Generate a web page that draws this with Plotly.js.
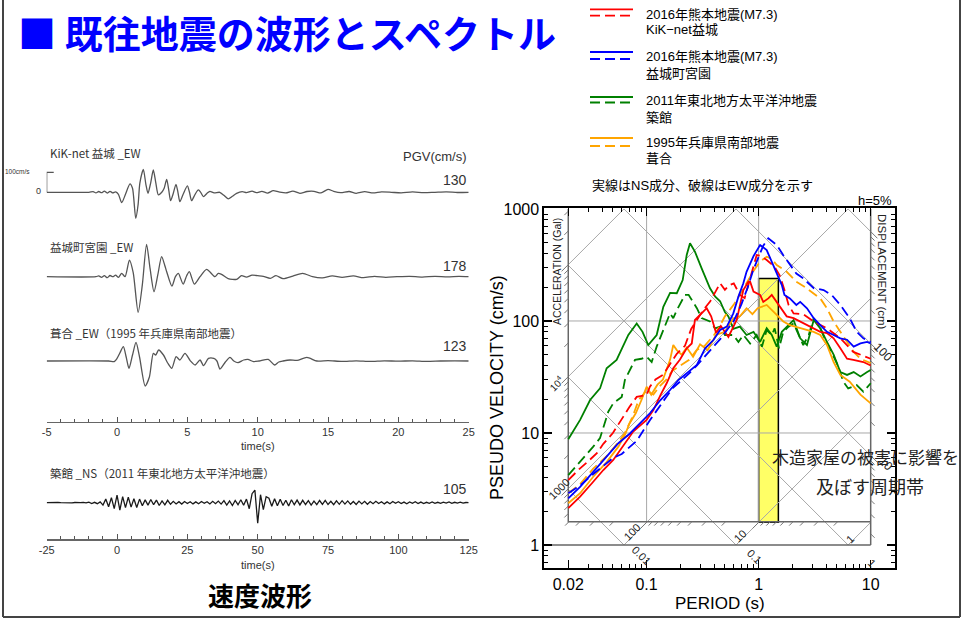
<!DOCTYPE html>
<html><head><meta charset="utf-8">
<script src="https://cdn.plot.ly/plotly-3.0.1.min.js"></script>
<style>html,body{margin:0;padding:0;background:#fff}#chart{width:967px;height:623px}</style>
</head><body><div id="chart"></div>
<script>
// ---------------- DATA ----------------
// Velocity waveforms (cm/s) vs time (s)
const wave1Time = [-5,-2,-1.7,-1.5,-1.3,-1.1,-0.9,-0.7,-0.5,-0.3,-0.1,0.1,0.33,0.6,0.92,1.1,1.33,1.5,1.62,1.87,2.05,2.2,2.4,2.58,2.75,2.94,3.18,3.35,3.53,3.68,3.81,4.0,4.19,4.33,4.47,4.7,5.0,5.15,5.3,5.55,5.78,5.95,6.14,6.4,6.6,6.9,7.3,7.6,7.9,8.2,8.5,8.9,9.2,9.6,9.9,10.3,10.7,11.1,11.5,12.0,12.5,13.0,13.5,14.0,14.5,15.0,15.4,15.9,16.5,17.0,17.6,18.2,18.8,19.5,20.2,21.0,21.8,22.6,23.4,24.2,25];
const wave1Vel = [0,0,3,-3,4,-2,6,-4,5,-3,2,-10,-52,-10,42,20,-130,-60,45,115,40,-5,50,112,50,-13,0,20,65,10,-42,-5,40,0,-47,-10,32,0,-42,-10,12,0,-22,-5,5,-3,0,-15,-33,-20,-5,3,-2,6,-2,5,-4,8,2,-3,6,-5,4,5,-3,15,5,-2,4,-5,3,-3,2,0,-3,2,-2,0,2,-1,0];
const wave2Time = [-5,-1.5,-1.3,-1.1,-0.9,-0.7,-0.5,-0.3,-0.1,0.1,0.33,0.57,0.88,1.15,1.5,1.8,2.1,2.35,2.63,2.9,3.17,3.4,3.53,3.9,4.15,4.36,4.7,4.95,5.14,5.5,5.9,6.37,6.96,7.2,7.43,7.9,8.5,8.85,9.2,9.6,10.0,10.4,10.9,11.3,11.8,12.5,13.2,13.9,14.6,15.3,16.0,16.8,17.5,18.3,19.1,19.9,20.8,21.7,22.6,23.5,24.3,25];
const wave2Vel = [0,0,4,-3,5,-5,6,0,8,-3,17,0,83,20,-178,-40,162,40,-75,10,100,55,25,-47,0,17,-37,5,25,-37,0,37,0,17,12,-10,-13,5,-2,8,5,2,-8,5,-10,3,17,0,-6,4,-3,4,-5,2,-3,0,2,-2,2,-1,2,0];
const wave3Time = [-5,-0.6,-0.2,0,0.2,0.45,0.65,0.85,1.1,1.35,1.6,2.0,2.3,2.58,2.75,2.96,3.3,3.6,3.89,4.2,4.47,4.83,5.2,5.55,5.9,6.15,6.5,6.88,7.1,7.32,7.7,8.03,8.3,8.6,9.0,9.3,9.7,10.1,10.75,11.2,11.5,11.8,12.3,12.8,13.5,14.2,15,16,17,18,19,20,21,22,23,24,25];
const wave3Vel = [0,0,-3,13,40,72,20,-37,30,93,20,-125,-80,38,30,55,30,-10,-37,22,5,38,2,-20,5,-23,13,13,0,-40,-5,18,0,-8,5,8,-3,0,8,-20,-5,0,5,3,18,0,2,-2,1,-2,1,-1,1,-2,0,1,0];
// 2011 record sampled every 1 s from -25 s
const wave4Start = -25, wave4Step = 1;
const wave4Vel = [0,1,-1,0,1,0,-1,1,0,-1,1,-1,0,2,-1,
  3,-4,2,-5,4,
  -12,18,-20,25,-30,38,-37,30,-25,28,-22,20,-24,18,-15,
  14,-12,16,-10,13,-14,9,-11,12,-8,
  7,-6,5,-7,6,-4,5,-6,4,-5,6,-3,5,-6,7,-5,8,-7,
  10,-12,9,-14,11,-10,15,-13,18,
  -30,45,63,-103,40,-35,30,
  22,-18,20,-15,17,-14,12,-16,15,-10,13,
  -11,12,-9,10,-12,8,-10,11,-8,12,-9,7,-10,9,-8,10,-7,9,-8,6,-9,8,-6,7,-8,
  6,-5,7,-4,5,-6,4,-5,6,-3,5,-4,3,-5,4,-3,5,-4,3,-4,2,-3,4,-3,2,-3,3,-2,4,-3,2,-2,3,-2,1,0];
const waveLabels = ['KiK-net 益城 _EW','益城町宮園 _EW','葺合 _EW（1995 年兵庫県南部地震）','築館 _NS（2011 年東北地方太平洋沖地震）'];
const wavePGV = ['130','178','123','105'];

// Pseudo velocity response spectra (h=5%), period (s) / velocity (cm/s)
const redNsPeriod = [0.02,0.0255,0.0334,0.0411,0.0504,0.064,0.076,0.1,0.115,0.133,0.151,0.173,0.198,0.228,0.253,0.27,0.31,0.344,0.377,0.417,0.46,0.537,0.637,0.73,0.81,0.84,0.9,1.03,1.1,1.22,1.31,1.45,1.61,1.78,2.05,2.35,2.7,3.1,3.55,4.07,4.67,5.36,6.15,7.0,8.6,10];
const redNsVel = [2.13,2.7,3.67,4.67,5.74,8.1,10.3,13.1,16,21.8,27.8,37.8,45,57,63,102,117,130,110,78,90,72,102,189,224,224,183,171,148,159,171,148,125,110,106,99,92,86,80,78,70,57,46,45,43,40];
const redEwPeriod = [0.02,0.0255,0.0302,0.036,0.0411,0.05,0.062,0.07,0.0816,0.1,0.107,0.12,0.14,0.162,0.186,0.22,0.25,0.281,0.32,0.37,0.417,0.453,0.5,0.55,0.6,0.68,0.75,0.85,0.96,1.05,1.18,1.39,1.54,1.7,1.85,2.05,2.5,3.1,4.07,5.36,7.0,10];
const redEwVel = [3.8,4.84,5.6,6.6,8.0,10,14,17,21,21.8,25.9,30,33,41.9,51,60,85,102,125,150,189,217,190,209,217,171,160,250,388,380,350,304,256,189,139,117,115,99,86,70,53,46];
const blueNsPeriod = [0.02,0.0255,0.0334,0.044,0.056,0.071,0.0873,0.107,0.133,0.162,0.192,0.228,0.281,0.333,0.395,0.453,0.52,0.594,0.66,0.73,0.78,0.9,1.03,1.18,1.31,1.45,1.61,1.7,1.9,2.17,2.35,2.7,3.1,3.55,4.07,4.67,5.36,6.15,7.05,8.1,9.3,10];
const blueNsVel = [2.61,3.3,4.5,6.1,8.1,9.9,12.2,15,19.7,24.2,29.7,34,40.5,57,67.6,83,89,117,165,217,275,380,477,430,339,275,209,171,159,139,148,130,106,92,80,75,70,68,59,63,65,63];
const blueEwPeriod = [0.02,0.0255,0.0334,0.044,0.0504,0.06,0.0816,0.107,0.123,0.145,0.17,0.2,0.24,0.28,0.33,0.4,0.46,0.53,0.6,0.7,0.8,0.9,1.0,1.1,1.22,1.45,1.65,1.9,2.17,2.5,3.1,3.8,4.5,5.36,6.5,7.5,8.6,10];
const blueEwVel = [2.9,3.4,4.3,5.4,6.0,6.5,8.5,13,16,20,25,29,34,40,48,60,70,85,100,140,200,290,380,470,547,477,390,316,265,240,196,189,170,139,106,80,70,65];
const greenNsPeriod = [0.02,0.0255,0.0313,0.0384,0.044,0.054,0.0687,0.0816,0.092,0.1035,0.123,0.141,0.162,0.186,0.21,0.228,0.244,0.27,0.31,0.368,0.41,0.453,0.5,0.537,0.594,0.68,0.78,0.9,1.03,1.18,1.31,1.45,1.61,1.85,2.05,2.35,2.7,3.1,3.55,4.07,4.67,5.36,6.15,7.05,8.1,9.3,10];
const greenNsVel = [8.8,13.1,19.7,25,37.8,44.9,75,95,80,61,75,134,178,177,232,388,494,416,295,196,165,150,120,110,85,89,75,80,65,86,75,59,80,92,102,70,61,102,86,65,50,35,33,35,32,35,36.5];
const greenEwPeriod = [0.02,0.0255,0.0334,0.0384,0.0455,0.0504,0.06,0.064,0.0788,0.09,0.1,0.111,0.123,0.141,0.162,0.173,0.186,0.22,0.237,0.281,0.31,0.368,0.408,0.453,0.5,0.594,0.66,0.73,0.84,0.96,1.07,1.18,1.31,1.39,1.52,1.66,1.85,2.05,2.27,2.5,2.8,3.1,3.55,4.0,4.47,5.1,5.7,6.3,7.5,8.6,10];
const greenEwVel = [4.2,5.5,7.55,9.0,15.5,18.4,21,29.7,44.9,46,48,43,59,83,117,106,125,171,171,130,106,99,86,89,75,75,65,75,63,75,59,83,75,86,57,80,89,95,75,61,75,106,86,65,53,40,28.7,25,26.8,23.4,27.8];
const orangeNsPeriod = [0.02,0.0255,0.0334,0.044,0.056,0.064,0.07,0.08,0.09,0.1,0.11,0.125,0.14,0.162,0.173,0.186,0.205,0.228,0.26,0.3,0.35,0.417,0.5,0.594,0.68,0.78,0.88,0.98,1.18,1.31,1.45,1.66,1.9,2.35,3.1,3.55,4.07,4.67,5.36,6.5,8.1,10];
const orangeNsVel = [2.36,2.9,4.07,5.5,7.55,9.6,12,15,19.7,25.9,22,27,30,45,61,55,50,58,48,62,55,75,80,105,110,130,115,130,139,125,112,99,92,86,80,75,61,43,33,28.7,22,18.4];
const orangeEwPeriod = [0.02,0.0255,0.0334,0.044,0.056,0.064,0.075,0.085,0.1,0.115,0.13,0.15,0.17,0.2,0.24,0.28,0.33,0.4,0.45,0.5,0.6,0.7,0.8,0.9,1.03,1.18,1.3,1.45,1.78,2.17,2.6,3.1,3.55,4.07,4.67,5.36,6.15,7.05,8.1,10];
const orangeEwVel = [2.9,3.5,4.8,6.2,8.3,10,14,19.7,24,22,26,30,36,40,45,55,60,75,90,110,140,180,230,280,339,375,360,316,275,224,200,177,159,130,99,80,65,53,46,42];

const legendLine1 = ['2016年熊本地震(M7.3)','2016年熊本地震(M7.3)','2011年東北地方太平洋沖地震','1995年兵庫県南部地震'];
const legendLine2 = ['KiK−net益城','益城町宮園','築館','葺合'];
// band of periods affecting wooden houses
const bandPeriod = [1, 1.5];
const bandVel = [1.6, 240];

// ---------------- STYLE / HELPERS ----------------
const W = 967, H = 623;
const px = v => v / W, py = v => 1 - v / H;
const FONT = 'Liberation Sans, Arial, Noto Sans CJK JP, sans-serif';
const JP = 'Noto Sans CJK JP, Liberation Sans, sans-serif';
const COL = {red:'#ff0000', blue:'#0000ff', green:'#008000', orange:'#ffa500'};
const DASH = '10px,5px';
const L10 = Math.log10;

const traces = [];
// yellow band
traces.push({x:[bandPeriod[0],bandPeriod[1],bandPeriod[1],bandPeriod[0],bandPeriod[0]],
  y:[bandVel[0],bandVel[0],bandVel[1],bandVel[1],bandVel[0]], mode:'lines', fill:'toself',
  fillcolor:'#ffff66', line:{color:'#000', width:1.5}, xaxis:'x', yaxis:'y', hoverinfo:'skip', showlegend:false});

// tripartite grid
const tMin = 0.02, tMax = 10, vLow = 1, vBox = 1.615, vTop = 1000;
const gx = [], gy = [];
[0.1, 1].forEach(t => { gx.push(t, t, null); gy.push(vBox, vTop, null); });
[10, 100].forEach(v => { gx.push(tMin, tMax, null); gy.push(v, v, null); });
const TWO_PI = 2 * Math.PI;
for (let n = 0; n <= 6; n++) { // constant acceleration lines, slope +1
  const c = L10(Math.pow(10, n) / TWO_PI);
  const a = Math.max(L10(tMin), L10(vLow) - c), b = Math.min(L10(tMax), L10(vTop) - c);
  if (a < b) { gx.push(Math.pow(10, a), Math.pow(10, b), null); gy.push(Math.pow(10, a + c), Math.pow(10, b + c), null); }
}
for (let n = -3; n <= 3; n++) { // constant displacement lines, slope -1
  const c = L10(TWO_PI * Math.pow(10, n));
  const a = Math.max(L10(tMin), c - L10(vTop)), b = Math.min(L10(tMax), c - L10(vLow));
  if (a < b) { gx.push(Math.pow(10, a), Math.pow(10, b), null); gy.push(Math.pow(10, c - a), Math.pow(10, c - b), null); }
}
traces.push({x:gx, y:gy, mode:'lines', line:{color:'#a8a8a8', width:1}, xaxis:'x', yaxis:'y', hoverinfo:'skip', showlegend:false});

// inner frame
traces.push({x:[tMin, tMin, tMax, null, tMax, tMax, null, 0.012, tMax], y:[vTop, vBox, vBox, null, vTop, vLow, null, vLow, vLow],
  mode:'lines', line:{color:'#666', width:1.5}, xaxis:'x', yaxis:'y', hoverinfo:'skip', showlegend:false});

// hatch ticks of the diagonal scales
const hx = [], hy = [];
for (let n = -3; n <= 7; n++) for (let k = 1; k <= 9; k++) {
  const A = k * Math.pow(10, n), d = k === 1 ? 0.06 : 0.035, f = Math.pow(10, -d);
  const vL = A * tMin / TWO_PI;
  if (vL >= vBox && vL <= vTop) { hx.push(tMin, tMin * f, null); hy.push(vL, vL * f, null); }
  const tB = TWO_PI * vBox / A;
  if (tB >= tMin && tB <= tMax) { hx.push(tB, tB * f, null); hy.push(vBox, vBox * f, null); }
  const D = A / 1e4, vR = TWO_PI * D / tMax;
  if (vR >= vLow && vR <= vTop) { hx.push(tMax, tMax / f, null); hy.push(vR, vR * f, null); }
}
traces.push({x:hx, y:hy, mode:'lines', line:{color:'#777', width:1}, xaxis:'x', yaxis:'y', hoverinfo:'skip', showlegend:false});

// spectra
const spectra = [
  [greenNsPeriod, greenNsVel, COL.green, 'solid'], [greenEwPeriod, greenEwVel, COL.green, DASH],
  [orangeNsPeriod, orangeNsVel, COL.orange, 'solid'], [orangeEwPeriod, orangeEwVel, COL.orange, DASH],
  [redNsPeriod, redNsVel, COL.red, 'solid'], [redEwPeriod, redEwVel, COL.red, DASH],
  [blueNsPeriod, blueNsVel, COL.blue, 'solid'], [blueEwPeriod, blueEwVel, COL.blue, DASH]
];
spectra.forEach(s => traces.push({x:s[0], y:s[1], mode:'lines', line:{color:s[2], width:1.8, dash:s[3]},
  xaxis:'x', yaxis:'y', hoverinfo:'skip', showlegend:false}));

// waveforms
const WCOL = '#555';
traces.push({x:wave1Time, y:wave1Vel, mode:'lines', line:{color:WCOL, width:1.3, shape:'spline', smoothing:0.7}, xaxis:'x2', yaxis:'y2', hoverinfo:'skip', showlegend:false});
traces.push({x:[-4.5, -5, -5], y:[100, 100, 0], mode:'lines', line:{color:WCOL, width:1.2}, xaxis:'x2', yaxis:'y2', hoverinfo:'skip', showlegend:false});
traces.push({x:wave2Time, y:wave2Vel, mode:'lines', line:{color:WCOL, width:1.3, shape:'spline', smoothing:0.7}, xaxis:'x2', yaxis:'y3', hoverinfo:'skip', showlegend:false});
traces.push({x:wave3Time, y:wave3Vel, mode:'lines', line:{color:WCOL, width:1.3, shape:'spline', smoothing:0.7}, xaxis:'x2', yaxis:'y4', hoverinfo:'skip', showlegend:false});
const wave4Time = wave4Vel.map((_, i) => wave4Start + i * wave4Step);
traces.push({x:wave4Time, y:wave4Vel, mode:'lines', line:{color:'#1a1a1a', width:1.3}, xaxis:'x3', yaxis:'y5', hoverinfo:'skip', showlegend:false});

// ---------------- LAYOUT ----------------
const minorVals = (lo, hi) => { const a = []; for (let n = -3; n <= 3; n++) for (let k = 1; k <= 9; k++) { const v = k * Math.pow(10, n); if (v >= lo && v <= hi) a.push(v); } return a; };
const specAxis = {type:'log', showline:true, linecolor:'#000', linewidth:2, mirror:'ticks', ticks:'inside', ticklen:8, tickwidth:1.3, tickcolor:'#000',
  tickfont:{size:16, family:FONT, color:'#000'}, showgrid:false, zeroline:false, automargin:false, fixedrange:true};
const waveY = (base) => ({domain:[py(base + 50), py(base - 50)], range:[-250, 250], visible:false, fixedrange:true});
const timeAxis = (pos, rng, dt, mdt) => {
  const tv = []; for (let v = rng[0]; v <= rng[1]; v += dt) tv.push(v);
  return {domain:[px(46.7), px(468.7)], range:rng, anchor:'free', position:py(pos), tickvals:tv, ticktext:tv.map(String),
    ticks:'inside', ticklen:5, tickwidth:1, tickcolor:'#555', showline:true, linecolor:'#666', linewidth:1.5, showgrid:false, zeroline:false,
    tickfont:{size:11, family:FONT, color:'#333'}, minor:{dtick:mdt, tick0:0, ticks:'inside', ticklen:3, tickcolor:'#555', showgrid:false}, fixedrange:true, automargin:false};
};

const annotations = [];
const ann = (text, x, y, o = {}) => annotations.push(Object.assign({text, x:px(x), y:py(y), xref:'paper', yref:'paper', showarrow:false,
  xanchor:'center', yanchor:'middle', font:{family:FONT, size:12, color:'#000'}}, o));

// title
ann('<b>■ 既往地震の波形とスペクトル</b>', 16, 32, {xanchor:'left', font:{family:JP, size:38, color:'#0000ff'}});
// waveform labels
const labelY = [153, 247, 333, 473], pgvY = [180, 266, 346, 489];
waveLabels.forEach((t, i) => ann(t, 48, labelY[i], {xanchor:'left', font:{family:JP, size:11.5, color:'#333'}}));
wavePGV.forEach((t, i) => ann(t, 469, pgvY[i], {xanchor:'right', font:{family:FONT, size:14, color:'#333'}}));
ann('PGV(cm/s)', 469, 156, {xanchor:'right', font:{family:FONT, size:13, color:'#333'}});
ann('100cm/s', 32, 172, {xanchor:'right', font:{family:FONT, size:6.5, color:'#333'}});
ann('0', 38, 191, {font:{family:FONT, size:9, color:'#333'}});
ann('time(s)', 258, 446, {font:{family:FONT, size:11, color:'#333'}});
ann('time(s)', 258, 565, {font:{family:FONT, size:11, color:'#333'}});
ann('<b>速度波形</b>', 260, 594, {font:{family:JP, size:26, color:'#000'}});
// spectrum labels
ann('PSEUDO VELOCITY (cm/s)', 497, 388, {textangle:-90, font:{family:FONT, size:18, color:'#000'}});
ann('PERIOD (s)', 719.5, 603, {font:{family:FONT, size:17, color:'#000'}});
ann('ACCELERATION (Gal)', 557, 272, {textangle:-90, font:{family:FONT, size:10.5, color:'#222'}});
ann('DISPLACEMENT (cm)', 882, 272, {textangle:90, font:{family:FONT, size:11.5, color:'#222'}});
ann('10<sup>4</sup>', 556, 384, {textangle:-45, font:{family:FONT, size:10, color:'#222'}});
ann('1000', 559, 489, {textangle:-45, font:{family:FONT, size:11, color:'#222'}});
ann('100', 632, 532, {textangle:-45, font:{family:FONT, size:11, color:'#222'}});
ann('10', 740, 536, {textangle:-45, font:{family:FONT, size:11, color:'#222'}});
ann('1', 850, 539, {textangle:-45, font:{family:FONT, size:11, color:'#222'}});
ann('0.01', 641, 555, {textangle:45, font:{family:FONT, size:11, color:'#222'}});
ann('0.1', 754, 556, {textangle:45, font:{family:FONT, size:11, color:'#222'}});
ann('1', 872, 563, {textangle:45, font:{family:FONT, size:11, color:'#222'}});
ann('100', 883, 352, {textangle:45, font:{family:FONT, size:12, color:'#222'}});
ann('10', 886, 464, {textangle:45, font:{family:FONT, size:12, color:'#222'}});
ann('h=5%', 894, 200, {xanchor:'right', font:{family:FONT, size:13, color:'#000'}});
ann('木造家屋の被害に影響を', 770, 456, {xanchor:'left', font:{family:JP, size:17, color:'#222'}});
ann('及ぼす周期帯', 870, 486, {font:{family:JP, size:18, color:'#222'}});
// legend
const legY = [[9.3, 15.7, 14, 30], [52, 59, 57, 73], [97, 102.5, 100, 117], [138, 146, 143, 158]];
const legCol = [COL.red, COL.blue, COL.green, COL.orange];
const shapes = [];
legY.forEach((r, i) => {
  shapes.push({type:'line', xref:'paper', yref:'paper', x0:px(590), x1:px(633), y0:py(r[0]), y1:py(r[0]), line:{color:legCol[i], width:1.8}});
  shapes.push({type:'line', xref:'paper', yref:'paper', x0:px(590), x1:px(633), y0:py(r[1]), y1:py(r[1]), line:{color:legCol[i], width:1.8, dash:DASH}});
  ann(legendLine1[i], 644, r[2], {xanchor:'left', font:{family:FONT, size:13, color:'#000'}});
  ann(legendLine2[i], 644, r[3], {xanchor:'left', font:{family:FONT, size:13, color:'#000'}});
});
ann('実線はNS成分、破線はEW成分を示す', 590, 185, {xanchor:'left', font:{family:FONT, size:13, color:'#000'}});
// page frame
[[3, 0, 3, 617], [960, 0, 960, 617], [3, 617, 960, 617]].forEach(s => shapes.push({type:'line', xref:'paper', yref:'paper',
  x0:px(s[0]), y0:py(s[1]), x1:px(s[2]), y1:py(s[3]), line:{color:'#444', width:2}}));

const layout = {
  width:W, height:H, margin:{l:0, r:0, t:0, b:0}, paper_bgcolor:'#fff', plot_bgcolor:'rgba(0,0,0,0)', showlegend:false,
  font:{family:FONT},
  xaxis:Object.assign({}, specAxis, {domain:[px(544.3), px(895)], range:[-1.913, 1.217], anchor:'y',
    tickvals:[0.02, 0.1, 1, 10], ticktext:['0.02', '0.1', '1', '10'],
    minor:{tickvals:minorVals(0.013, 14).filter(v => [0.02, 0.1, 1, 10].indexOf(v) < 0), ticks:'inside', ticklen:4, tickwidth:1, tickcolor:'#000', showgrid:false}}),
  yaxis:Object.assign({}, specAxis, {domain:[py(568.3), py(208.3)], range:[-0.208, 3.006], anchor:'x',
    tickvals:[1, 10, 100, 1000], ticktext:['1', '10', '100', '1000'],
    minor:{tickvals:minorVals(0.62, 1000).filter(v => [1, 10, 100, 1000].indexOf(v) < 0), ticks:'inside', ticklen:4, tickwidth:1, tickcolor:'#000', showgrid:false}}),
  xaxis2:timeAxis(421.7, [-5, 25], 5, 1),
  xaxis3:timeAxis(539.3, [-25, 125], 25, 5),
  yaxis2:Object.assign(waveY(192.3), {anchor:'x2'}),
  yaxis3:Object.assign(waveY(276.7), {anchor:'x2'}),
  yaxis4:Object.assign(waveY(361), {anchor:'x2'}),
  yaxis5:Object.assign(waveY(502.7), {anchor:'x3'}),
  annotations, shapes
};
Plotly.newPlot('chart', traces, layout, {staticPlot:true, displayModeBar:false});
</script></body></html>
